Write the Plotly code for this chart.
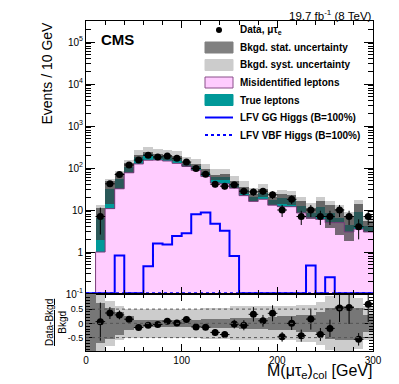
import numpy as np
import plotly.graph_objects as go

# 10 GeV bins from 0 to 300 GeV
bin_lo = list(range(0, 300, 10))
bin_mid = [b + 5 for b in bin_lo]

# observed data (events / 10 GeV) and its error
data_obs = [None, 7, 42, 70, 118, 155, 200, 183, 193, 170, 139, 97, 71, 41, 37,
            40, 28, 27, 28, 23, 10, 18, 7, 10, 7, 7, 10, 7, 4, 7]
data_err = [None, 4.4, 6.5, 8.4, 10.9, 12.4, 14.1, 13.5, 13.9, 13.0, 11.8, 9.8, 8.4, 6.4, 6.1,
            6.3, 5.3, 5.2, 5.3, 4.8, 3.2, 4.2, 2.6, 3.2, 2.6, 2.6, 3.2, 2.6, 2.0, 2.6]

# backgrounds
misid = [0, 1.0, 10.8, 32, 77, 125, 153, 155, 147, 129, 110, 88, 63, 44, 42,
         33, 22, 16, 18, 13, 12, 12, 8.5, 6.5, 6, 5, 5, 3, 3.5, 3]
true_lep = [0, 5.6, 20, 22, 26, 57, 62, 35, 32, 39, 12, 23, 19, 16, 19,
            8, 8, 4.5, 7.7, 4, 7, 6, 3.8, 2.2, 5.5, 3.5, 1.5, 1.5, 5.6, 1.2]

# relative uncertainties on the background
stat_rel = [2.0, 0.7, 0.55, 0.4, 0.25, 0.12, 0.12, 0.12, 0.12, 0.12, 0.12, 0.12, 0.15, 0.15, 0.15,
            0.18, 0.2, 0.2, 0.2, 0.22, 0.25, 0.25, 0.3, 0.3, 0.4, 0.55, 0.6, 0.6, 0.55, 0.3]
syst_rel = [2.0, 1.0, 0.8, 0.6, 0.5, 0.5, 0.5, 0.5, 0.5, 0.5, 0.5, 0.5, 0.55, 0.55, 0.55,
            0.6, 0.6, 0.6, 0.6, 0.6, 0.6, 0.6, 0.65, 0.65, 0.75, 0.95, 1.0, 1.0, 0.9, 0.6]

# LFV signals (B=100%)
lfv_gg = [0, 0, 0, 0.83, 0, 0, 0.46, 1.6, 1.5, 2.4, 2.8, 7.9, 8.7, 4.7, 3.2,
          0.8, 0, 0, 0, 0, 0, 0, 0, 0.48, 0, 0.25, 0, 0, 0, 0]
lfv_vbf = [0, 0, 0, 0, 0, 0, 0, 0.02, 0.03, 0.04, 0.05, 0.07, 0.06, 0.04, 0.03,
           0.02, 0, 0, 0, 0, 0, 0, 0, 0, 0, 0, 0, 0, 0, 0]

FONT = "Liberation Sans"
YMIN_LOG = -1

total = np.array(misid) + np.array(true_lep)
has_bkg = total > 0
obs = np.array([np.nan if v is None else v for v in data_obs])
err = np.array([np.nan if v is None else v for v in data_err])
stat = np.array(stat_rel)
syst = np.array(syst_rel)


def nz(a):
    return [v if ok else None for v, ok in zip(a, has_bkg)]


fig = go.Figure()

# ---- main panel ----
syst_lo = np.maximum(total * (1 - syst), 1e-3)
fig.add_bar(x=bin_mid, y=nz(total * (1 + syst) - syst_lo), base=nz(syst_lo), width=10,
            marker=dict(color="#cccccc", line_width=0), xaxis="x", yaxis="y")
fig.add_bar(x=bin_mid, y=nz(np.array(misid) - 1e-3), base=1e-3, width=10,
            marker=dict(color="#ffccff", line_width=0), xaxis="x", yaxis="y")
fig.add_bar(x=bin_mid, y=nz(np.array(true_lep)), base=nz(np.array(misid)), width=10,
            marker=dict(color="#009999", line_width=0), xaxis="x", yaxis="y")

step_x = bin_lo + [300]
fig.add_scatter(x=step_x, y=list(np.maximum(misid, 10 ** -1.5)) + [misid[-1]], mode="lines",
                line=dict(color="#7a3d7a", width=1, shape="hv"), xaxis="x", yaxis="y")

stat_lo = total * (1 - np.minimum(stat, 0.99))
fig.add_bar(x=bin_mid, y=nz(total * (1 + stat) - stat_lo), base=nz(stat_lo), width=10,
            marker=dict(color="rgba(60,60,60,0.7)", line_width=0), xaxis="x", yaxis="y")

floor = 10 ** (YMIN_LOG + 0.015)
for vals, dash in [(lfv_vbf, "dot"), (lfv_gg, "solid")]:
    y = list(np.maximum(vals, floor))
    fig.add_scatter(x=step_x, y=y + [y[-1]], mode="lines",
                    line=dict(color="#0000ff", width=2, shape="hv", dash=dash),
                    xaxis="x", yaxis="y")

fig.add_scatter(x=bin_mid, y=obs, mode="markers",
                marker=dict(color="black", size=7),
                error_y=dict(type="data", array=err, color="black", thickness=1, width=0),
                error_x=dict(type="constant", value=5, color="black", thickness=1, width=0),
                xaxis="x", yaxis="y")

# ---- ratio panel ----
fig.add_bar(x=bin_mid, y=2 * syst, base=-syst, width=10,
            marker=dict(color="#cccccc", line_width=0), xaxis="x2", yaxis="y2")
fig.add_bar(x=bin_mid, y=2 * stat, base=-stat, width=10,
            marker=dict(color="#777777", line_width=0), xaxis="x2", yaxis="y2")
ratio = np.where(has_bkg, (obs - total) / np.where(has_bkg, total, 1), np.nan)
ratio_err = np.where(has_bkg, err / np.where(has_bkg, total, 1), np.nan)
fig.add_scatter(x=bin_mid, y=ratio, mode="markers",
                marker=dict(color="black", size=7),
                error_y=dict(type="data", array=ratio_err, color="black", thickness=1, width=0),
                error_x=dict(type="constant", value=5, color="black", thickness=1, width=0),
                xaxis="x2", yaxis="y2")

for t in fig.data:
    t.showlegend = False

# axes
axis_common = dict(showline=True, linecolor="black", linewidth=1, mirror="ticks",
                   ticks="inside", tickcolor="black", showgrid=False, zeroline=False,
                   tickfont=dict(family=FONT, size=10, color="black"))
log_minor = [m * 10 ** e for e in range(-1, 6) for m in range(2, 10)]

# the page body has an 8px margin, so the figure is shrunk by that much
fig.update_layout(
    width=391, height=376,
    margin=dict(l=78, r=26, t=13, b=33),
    paper_bgcolor="white", plot_bgcolor="white",
    barmode="overlay", bargap=0,
    showlegend=False,
    xaxis=dict(domain=[0, 1], anchor="y", range=[0, 300], tickvals=[0, 100, 200, 300],
               showticklabels=False, ticklen=7,
               minor=dict(tickvals=list(range(0, 301, 20)), ticks="inside", ticklen=4, tickcolor="black"),
               **axis_common),
    yaxis=dict(domain=[57 / 330, 1], anchor="x", type="log", range=[YMIN_LOG, 5.5],
               tickvals=[0.1, 1, 10, 100, 1e3, 1e4, 1e5],
               ticktext=["10<sup>-1</sup>", "1", "10", "10<sup>2</sup>", "10<sup>3</sup>",
                         "10<sup>4</sup>", "10<sup>5</sup>"],
               ticklen=9,
               minor=dict(tickvals=log_minor, ticks="inside", ticklen=5, tickcolor="black"),
               **axis_common),
    xaxis2=dict(domain=[0, 1], anchor="y2", matches="x", range=[0, 300],
                tickvals=[0, 100, 200, 300], ticktext=["0", "100", "200", "300"], ticklen=7,
                minor=dict(tickvals=list(range(0, 301, 20)), ticks="inside", ticklen=4, tickcolor="black"),
                **axis_common),
    yaxis2=dict(domain=[0, 57 / 330], anchor="x2", range=[-0.97, 1.03],
                tickvals=[-0.5, 0, 0.5], ticktext=["-0.5", "0", "0.5"], ticklen=9,
                minor=dict(tickvals=[round(-0.9 + 0.1 * i, 1) for i in range(20)],
                           ticks="inside", ticklen=4, tickcolor="black"),
                **axis_common),
)
fig.update_yaxes(tickfont_size=9, selector=dict(anchor="x2"))

# dotted reference lines in the ratio panel
for yv in [0.5, 0, -0.5]:
    fig.add_shape(type="line", xref="x2", yref="y2", x0=0, x1=300, y0=yv, y1=yv,
                  line=dict(color="#555555", width=1, dash="dot"), layer="above")

W, H, L, B = 287.0, 330.0, 86.0, 351.0


def px(xp):
    return (xp - L) / W


def py(yp):
    return (B - yp) / H


# texts
fig.add_annotation(text="CMS", x=px(99), y=py(39), xref="paper", yref="paper",
                   xanchor="left", yanchor="middle", showarrow=False,
                   font=dict(family=FONT, size=15, color="black", weight="bold"))
fig.add_annotation(text="19.7 fb<sup>-1</sup> (8 TeV)", x=1.0, y=py(23.5), xref="paper", yref="paper",
                   xanchor="right", yanchor="bottom", showarrow=False, borderpad=0,
                   font=dict(family=FONT, size=11.5, color="black"))
fig.add_annotation(text="Events / 10 GeV", x=px(46), y=py(20), xref="paper", yref="paper",
                   xanchor="center", yanchor="top", textangle=-90, showarrow=False,
                   font=dict(family=FONT, size=14, color="black"))
fig.add_annotation(text="<u>Data-Bkgd</u><br>Bkgd", x=px(56), y=py(323), xref="paper", yref="paper",
                   xanchor="center", yanchor="middle", textangle=-90, showarrow=False,
                   font=dict(family=FONT, size=10, color="black"))
fig.add_annotation(text="M(μτ<sub>e</sub>)<sub>col</sub> [GeV]", x=1.0, y=py(382), xref="paper", yref="paper",
                   xanchor="right", yanchor="bottom", showarrow=False, borderpad=0,
                   font=dict(family=FONT, size=16, color="black"))

# legend
leg_rows = [30 + 17.5 * i for i in range(7)]
leg_text = ["Data, μτ<sub>e</sub>", "Bkgd. stat. uncertainty", "Bkgd. syst. uncertainty",
            "Misidentified leptons", "True leptons", "LFV GG Higgs (B=100%)",
            "LFV VBF Higgs (B=100%)"]
for yr, txt in zip(leg_rows, leg_text):
    fig.add_annotation(text=txt, x=px(238), y=py(yr), xref="paper", yref="paper",
                       xanchor="left", yanchor="middle", showarrow=False,
                       font=dict(family=FONT, size=10, color="black", weight="bold"))
fig.add_shape(type="circle", xref="paper", yref="paper", x0=px(216), x1=px(222),
              y0=py(leg_rows[0] + 3), y1=py(leg_rows[0] - 3), fillcolor="black", line_width=0)
for yr, fill, edge in [(leg_rows[1], "#808080", "#808080"), (leg_rows[2], "#cccccc", "#cccccc"),
                       (leg_rows[3], "#ffccff", "#8a4f8a"), (leg_rows[4], "#009999", "#009999")]:
    fig.add_shape(type="rect", xref="paper", yref="paper", x0=px(205), x1=px(233),
                  y0=py(yr + 5.5), y1=py(yr - 5.5), fillcolor=fill, line=dict(color=edge, width=1))
for yr, dash in [(leg_rows[5], "solid"), (leg_rows[6], "dot")]:
    fig.add_shape(type="line", xref="paper", yref="paper", x0=px(205), x1=px(233),
                  y0=py(yr), y1=py(yr), line=dict(color="#0000ff", width=2, dash=dash))

fig.write_html("out.html")
